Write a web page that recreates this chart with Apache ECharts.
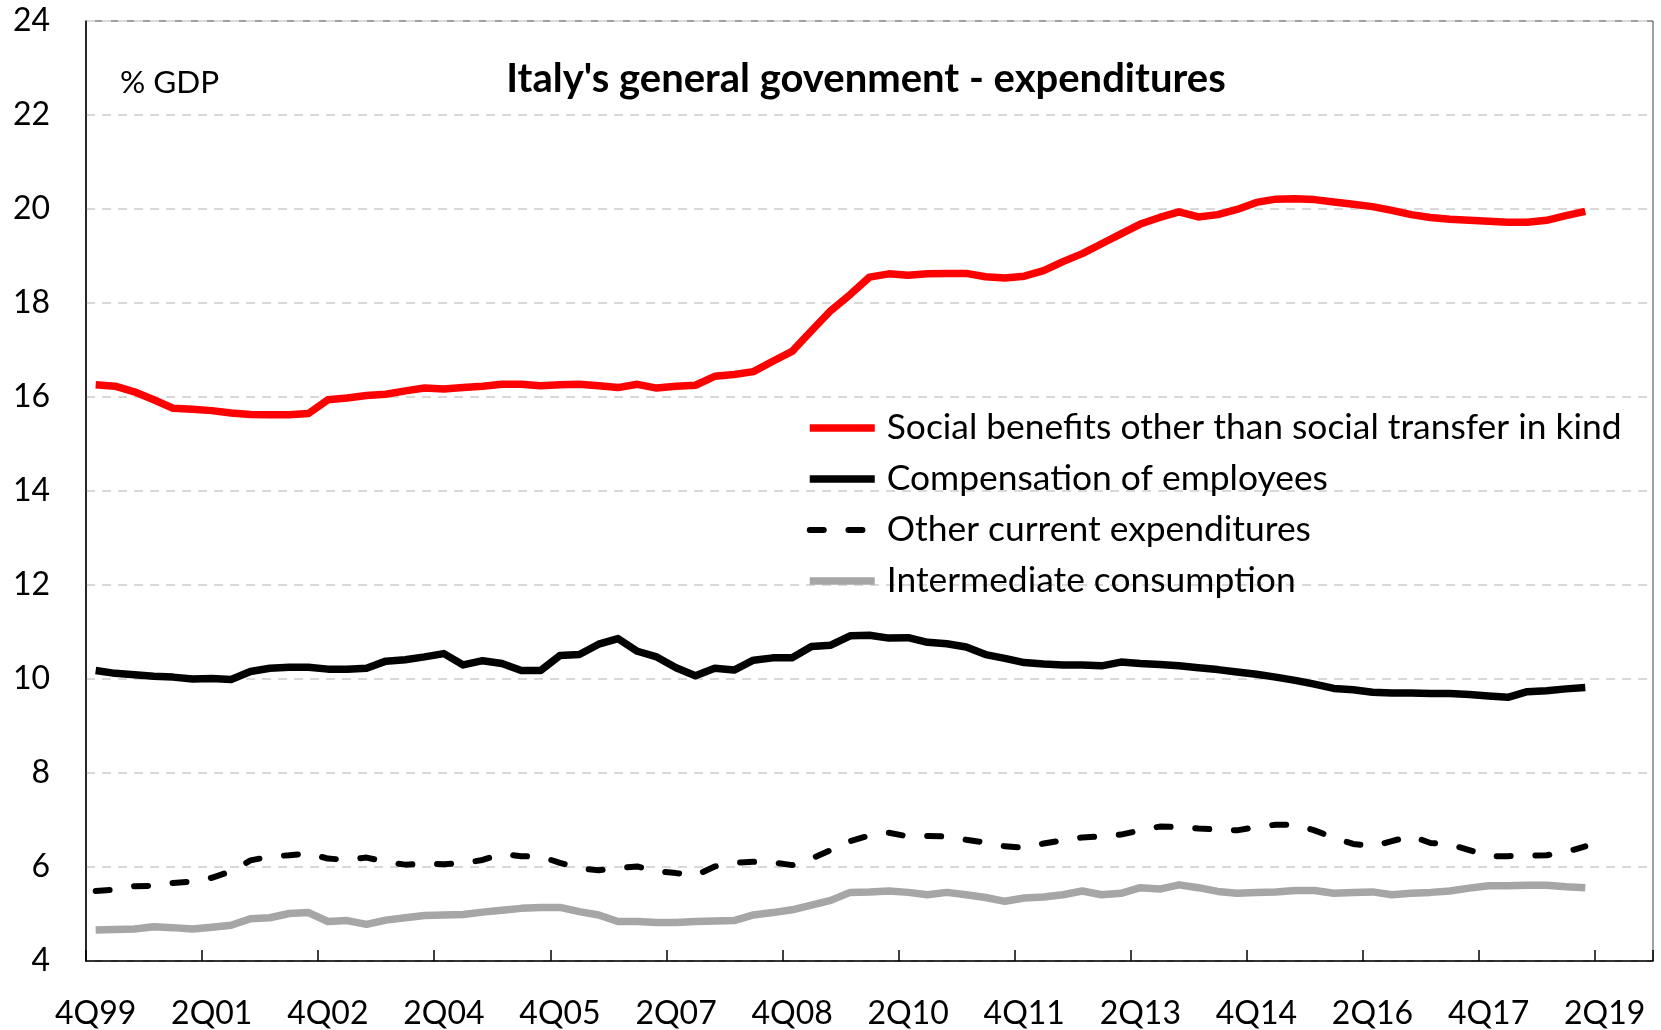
<!DOCTYPE html>
<html><head><meta charset="utf-8">
<script src="https://cdn.jsdelivr.net/npm/echarts@6/dist/echarts.min.js"></script>
<style>html,body{margin:0;padding:0;background:#fff}#c{width:1661px;height:1030px}</style>
</head><body><div id="c"></div>
<script>
const quarters = ['4Q99',
 '1Q00','2Q00','3Q00','4Q00','1Q01','2Q01','3Q01','4Q01','1Q02','2Q02','3Q02','4Q02',
 '1Q03','2Q03','3Q03','4Q03','1Q04','2Q04','3Q04','4Q04','1Q05','2Q05','3Q05','4Q05',
 '1Q06','2Q06','3Q06','4Q06','1Q07','2Q07','3Q07','4Q07','1Q08','2Q08','3Q08','4Q08',
 '1Q09','2Q09','3Q09','4Q09','1Q10','2Q10','3Q10','4Q10','1Q11','2Q11','3Q11','4Q11',
 '1Q12','2Q12','3Q12','4Q12','1Q13','2Q13','3Q13','4Q13','1Q14','2Q14','3Q14','4Q14',
 '1Q15','2Q15','3Q15','4Q15','1Q16','2Q16','3Q16','4Q16','1Q17','2Q17','3Q17','4Q17',
 '1Q18','2Q18','3Q18','4Q18','1Q19','2Q19','3Q19','4Q19'];

const seriesNames = ['Social benefits other than social transfer in kind',
  'Compensation of employees', 'Other current expenditures', 'Intermediate consumption'];

const socialBenefits = [16.26,16.23,16.11,15.94,15.76,15.74,15.71,15.66,15.63,15.62,
 15.62,15.65,15.94,15.98,16.03,16.06,16.13,16.19,16.17,16.20,
 16.23,16.27,16.27,16.24,16.26,16.27,16.24,16.20,16.27,16.19,
 16.23,16.25,16.44,16.48,16.54,16.76,16.97,17.41,17.84,18.18,
 18.55,18.62,18.59,18.62,18.63,18.63,18.56,18.53,18.57,18.69,
 18.88,19.05,19.26,19.47,19.68,19.82,19.94,19.83,19.88,19.99,
 20.14,20.21,20.22,20.20,20.15,20.10,20.05,19.97,19.88,19.82,
 19.78,19.76,19.74,19.72,19.72,19.76,19.86,19.95];

const compensation = [10.18,10.12,10.09,10.06,10.04,10.00,10.01,9.99,10.16,10.23,
 10.25,10.25,10.21,10.21,10.23,10.38,10.41,10.47,10.54,10.30,
 10.39,10.33,10.18,10.18,10.50,10.52,10.74,10.86,10.59,10.47,
 10.24,10.07,10.23,10.19,10.40,10.45,10.45,10.69,10.72,10.92,
 10.93,10.87,10.88,10.78,10.75,10.68,10.52,10.44,10.35,10.32,
 10.30,10.30,10.28,10.36,10.33,10.31,10.28,10.24,10.20,10.15,
 10.10,10.04,9.97,9.89,9.80,9.77,9.72,9.70,9.70,9.69,
 9.69,9.67,9.64,9.61,9.73,9.75,9.79,9.82];

const otherCurrent = [5.49,5.52,5.59,5.60,5.66,5.69,5.77,5.91,6.14,6.22,
 6.25,6.29,6.18,6.15,6.20,6.11,6.05,6.07,6.06,6.08,
 6.15,6.28,6.23,6.22,6.09,5.97,5.93,5.98,6.01,5.91,
 5.87,5.82,6.01,6.09,6.11,6.10,6.04,6.18,6.36,6.55,
 6.67,6.73,6.65,6.66,6.65,6.58,6.52,6.44,6.41,6.50,
 6.57,6.63,6.65,6.69,6.78,6.86,6.85,6.82,6.80,6.78,
 6.85,6.90,6.90,6.78,6.62,6.49,6.44,6.55,6.66,6.51,
 6.48,6.36,6.23,6.23,6.24,6.25,6.32,6.44];

const intermediate = [4.66,4.67,4.68,4.73,4.71,4.68,4.72,4.76,4.90,4.92,
 5.01,5.03,4.84,4.86,4.78,4.87,4.92,4.97,4.98,4.99,
 5.04,5.08,5.12,5.14,5.14,5.05,4.98,4.84,4.84,4.82,
 4.82,4.84,4.85,4.86,4.98,5.03,5.09,5.19,5.29,5.46,
 5.47,5.49,5.46,5.41,5.46,5.41,5.35,5.27,5.34,5.36,
 5.41,5.49,5.41,5.44,5.56,5.53,5.62,5.56,5.48,5.44,
 5.46,5.47,5.50,5.50,5.44,5.46,5.47,5.41,5.44,5.46,
 5.49,5.55,5.60,5.60,5.61,5.61,5.58,5.56];

const titleText = "Italy's general govenment - expenditures";
const unitText = '% GDP';
const FONT = 'Lato';

const chart = echarts.init(document.getElementById('c'), null, {renderer: 'canvas'});
chart.setOption({
  animation: false,
  backgroundColor: '#ffffff',
  title: [
    {text: titleText, left: 866, top: 58, textAlign: 'center', padding: 0,
     textStyle: {fontFamily: FONT, fontWeight: 'bold', fontSize: 40, color: '#000', lineHeight: 42}},
    {text: unitText, left: 120, top: 67, padding: 0,
     textStyle: {fontFamily: FONT, fontWeight: 'normal', fontSize: 31.5, color: '#000', lineHeight: 32}}
  ],
  grid: {left: 86, right: 8, top: 21, bottom: 67, show: true, borderColor: '#404040', borderWidth: 1, containLabel: false},
  legend: {
    orient: 'vertical', left: 801, top: 404, padding: 5,
    itemWidth: 65, itemHeight: 14, itemGap: 13,
    itemStyle: {opacity: 0, color: 'rgba(0,0,0,0)', borderWidth: 0},
    lineStyle: {width: 'inherit'},
    textStyle: {fontFamily: FONT, fontSize: 35.4, color: '#000', lineHeight: 38, padding: [0, 0, 0, 7]},
    data: seriesNames
  },
  xAxis: {
    type: 'category', data: quarters, boundaryGap: true,
    axisLine: {show: true, lineStyle: {color: '#000', width: 1.5}},
    axisTick: {show: true, inside: true, length: 11, interval: 5, lineStyle: {color: '#000', width: 1.5}},
    axisLabel: {interval: 5, margin: 37, fontFamily: FONT, fontSize: 32, color: '#000'},
    splitLine: {show: false}
  },
  yAxis: {
    type: 'value', min: 4, max: 24, interval: 2,
    axisLine: {show: true, lineStyle: {color: '#000', width: 1.5}},
    axisTick: {show: false},
    axisLabel: {margin: 36, fontFamily: FONT, fontSize: 32, color: '#000'},
    splitLine: {show: true, lineStyle: {color: '#d9d9d9', width: 2, type: [9, 7]}}
  },
  series: [
    {name: seriesNames[0], type: 'line', data: socialBenefits, symbol: 'none', z: 5,
     lineStyle: {color: '#ff0000', width: 7.5, join: 'round'}, itemStyle: {color: '#ff0000'}},
    {name: seriesNames[1], type: 'line', data: compensation, symbol: 'none', z: 4,
     lineStyle: {color: '#000000', width: 7.5, join: 'round'}, itemStyle: {color: '#000000'}},
    {name: seriesNames[2], type: 'line', data: otherCurrent, symbol: 'none', z: 3,
     lineStyle: {color: '#000000', width: 6, type: [14, 24.7], cap: 'round', join: 'round'}, itemStyle: {color: '#000000'}},
    {name: seriesNames[3], type: 'line', data: intermediate, symbol: 'none', z: 2,
     lineStyle: {color: '#a6a6a6', width: 7.5, join: 'round'}, itemStyle: {color: '#a6a6a6'}}
  ]
});
</script></body></html>
